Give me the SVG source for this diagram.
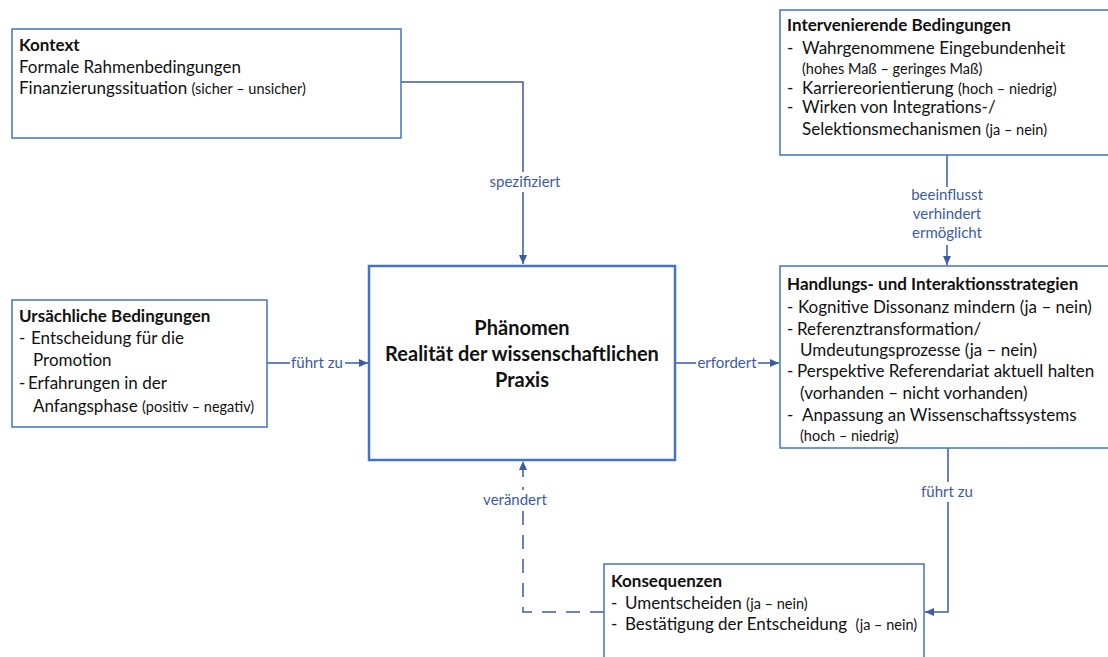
<svg xmlns="http://www.w3.org/2000/svg" width="1108" height="657" viewBox="0 0 1108 657">
<style>
.box{fill:#fff;stroke:#4472C4;stroke-width:1.5}
.main{fill:#fff;stroke:#4472C4;stroke-width:2.5}
text{font-family:Lato,"Open Sans",sans-serif;fill:#111}
.t{font-weight:bold;font-size:17px}
.n{font-size:17px}
.s{font-size:14.5px}
.c{font-weight:bold;font-size:20px;text-anchor:middle}
.con{fill:none;stroke:#3A5BA8;stroke-width:1.5}
.dash{stroke-dasharray:14,10}
.lbl{font-size:15px;fill:#3A5BA8;text-anchor:middle}
.bg{fill:#fff}
</style>
<defs>
<marker id="ah" markerWidth="10" markerHeight="10" refX="9" refY="5" orient="auto" markerUnits="userSpaceOnUse">
<path d="M0,1 L9,5 L0,9 z" fill="#3A5BA8"/>
</marker>
</defs>
<g id="connectors">
<path class="con" d="M401,82 H523 V264" marker-end="url(#ah)"/>
<rect class="bg" x="488" y="172" width="74" height="20"/>
<text class="lbl" x="525" y="187">spezifiziert</text>
<path class="con" d="M947,155 V265" marker-end="url(#ah)"/>
<rect class="bg" x="905" y="187" width="86" height="58"/>
<text class="lbl" x="947" y="200">beeinflusst</text>
<text class="lbl" x="947" y="219">verhindert</text>
<text class="lbl" x="947" y="238">ermöglicht</text>
<path class="con" d="M267,363 H368" marker-end="url(#ah)"/>
<rect class="bg" x="290" y="353" width="55" height="19"/>
<text class="lbl" x="317" y="368">führt zu</text>
<path class="con" d="M675,363 H779" marker-end="url(#ah)"/>
<rect class="bg" x="696" y="353" width="62" height="19"/>
<text class="lbl" x="727" y="368">erfordert</text>
<path class="con" d="M948,448 V612 H925" marker-end="url(#ah)"/>
<rect class="bg" x="917" y="482" width="62" height="20"/>
<text class="lbl" x="947" y="497">führt zu</text>
<path class="con dash" d="M604,612 H523 V461" marker-end="url(#ah)"/>
<rect class="bg" x="482" y="490" width="70" height="20"/>
<text class="lbl" x="515" y="505">verändert</text>
</g>
<g id="kontext">
<rect class="box" x="12" y="29" width="389" height="109"/>
<text class="t" x="19" y="51">Kontext</text>
<text class="n" x="19" y="73">Formale Rahmenbedingungen</text>
<text class="n" x="19" y="94">Finanzierungssituation <tspan class="s">(sicher – unsicher)</tspan></text>
</g>
<g id="intervenierende">
<rect class="box" x="780" y="10" width="340" height="145"/>
<text class="t" x="787" y="31">Intervenierende Bedingungen</text>
<text class="n" x="787" y="54">-</text><text class="n" x="802" y="54">Wahrgenommene Eingebundenheit</text>
<text class="s" x="802" y="74">(hohes Maß – geringes Maß)</text>
<text class="n" x="787" y="94">-</text><text class="n" x="802" y="94">Karriereorientierung <tspan class="s">(hoch – niedrig)</tspan></text>
<text class="n" x="787" y="113">-</text><text class="n" x="802" y="113">Wirken von Integrations-/</text>
<text class="n" x="802" y="135">Selektionsmechanismen <tspan class="s">(ja – nein)</tspan></text>
</g>
<g id="ursaechliche">
<rect class="box" x="12" y="300" width="255" height="127"/>
<text class="t" x="19" y="322">Ursächliche Bedingungen</text>
<text class="n" x="19" y="344">-</text><text class="n" x="31" y="344">Entscheidung für die</text>
<text class="n" x="33" y="366">Promotion</text>
<text class="n" x="19" y="389">-</text><text class="n" x="28" y="389">Erfahrungen in der</text>
<text class="n" x="33" y="412">Anfangsphase <tspan class="s">(positiv – negativ)</tspan></text>
</g>
<g id="phaenomen">
<rect class="main" x="369" y="266" width="306" height="194"/>
<text class="c" x="522" y="335">Phänomen</text>
<text class="c" x="522" y="361">Realität der wissenschaftlichen</text>
<text class="c" x="522" y="387">Praxis</text>
</g>
<g id="handlung">
<rect class="box" x="780" y="266" width="340" height="182"/>
<text class="t" x="787" y="290">Handlungs- und Interaktionsstrategien</text>
<text class="n" x="787" y="313">-</text><text class="n" x="798" y="313">Kognitive Dissonanz mindern (ja – nein)</text>
<text class="n" x="787" y="335">-</text><text class="n" x="797" y="335">Referenztransformation/</text>
<text class="n" x="800" y="356">Umdeutungsprozesse (ja – nein)</text>
<text class="n" x="787" y="377">-</text><text class="n" x="797" y="377">Perspektive Referendariat aktuell halten</text>
<text class="n" x="800" y="399">(vorhanden – nicht vorhanden)</text>
<text class="n" x="787" y="421">-</text><text class="n" x="802" y="421">Anpassung an Wissenschaftssystems</text>
<text class="s" x="800" y="441">(hoch – niedrig)</text>
</g>
<g id="konsequenzen">
<rect class="box" x="604" y="564" width="320" height="110"/>
<text class="t" x="611" y="587">Konsequenzen</text>
<text class="n" x="611" y="609">-</text><text class="n" x="625" y="609">Umentscheiden <tspan class="s">(ja – nein)</tspan></text>
<text class="n" x="611" y="630">-</text><text class="n" x="625" y="630">Bestätigung der Entscheidung <tspan class="s" dx="4">(ja – nein)</tspan></text>
</g>
</svg>
